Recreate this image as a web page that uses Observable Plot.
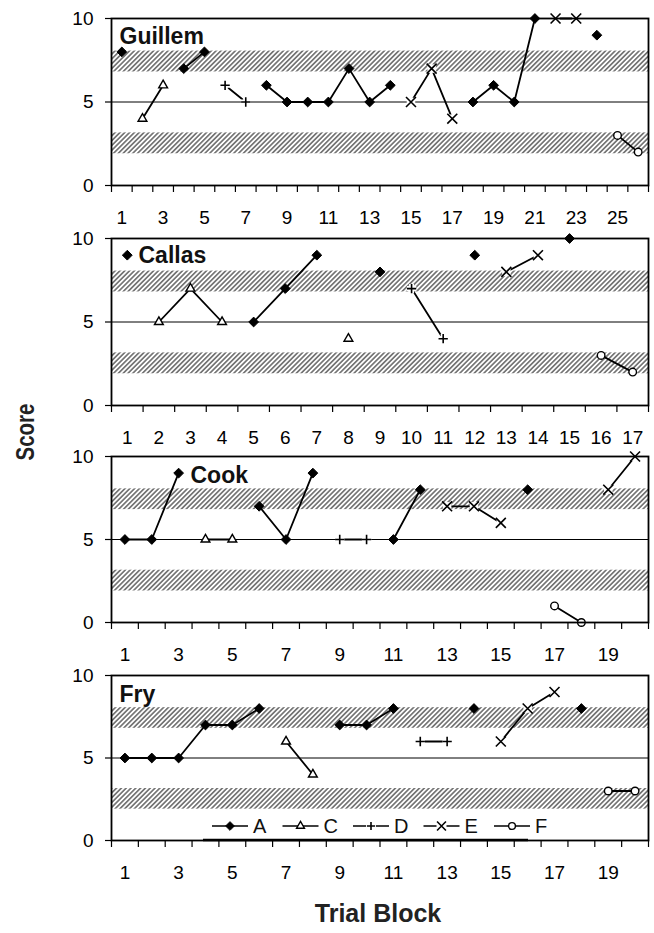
<!DOCTYPE html>
<html><head><meta charset="utf-8">
<script src="https://cdn.jsdelivr.net/npm/d3@7"></script>
<script src="https://cdn.jsdelivr.net/npm/@observablehq/plot@0.6"></script>
<style>
body{margin:0;background:#fff;}
#wrap{position:relative;width:654px;height:933px;overflow:hidden;background:#fff;font-family:"Liberation Sans",Arial,sans-serif;}
#wrap svg{position:absolute;left:0;}
</style></head><body>
<svg width="0" height="0" style="position:absolute"><defs>
<pattern id="hatch" patternUnits="userSpaceOnUse" width="3.4" height="3.4" patternTransform="rotate(45)">
<rect width="3.4" height="3.4" fill="#fff"/><line x1="1.7" y1="0" x2="1.7" y2="3.4" stroke="#444" stroke-width="1.25"/></pattern></defs></svg>
<div id="wrap"></div>
<script>
// ---- data ----
const guillemSeries = ["A","C","C","A","A","D","D","A","A","A","A","A","A","A","E","E","E","A","A","A","A","E","E","A","F","F"];
const guillemScores = [8,4,6,7,8,6,5,6,5,5,5,7,5,6,5,7,4,5,6,5,10,10,10,9,3,2];
const guillemTicks = [1,3,5,7,9,11,13,15,17,19,21,23,25];

const callasSeries = ["A","C","C","C","A","A","A","C","A","D","D","A","E","E","A","F","F"];
const callasScores = [9,5,7,5,5,7,9,4,8,7,4,9,8,9,10,3,2];
const callasTicks = [1,2,3,4,5,6,7,8,9,10,11,12,13,14,15,16,17];

const cookSeries = ["A","A","A","C","C","A","A","A","D","D","A","A","E","E","E","A","F","F","E","E"];
const cookScores = [5,5,9,5,5,7,5,9,5,5,5,8,7,7,6,8,1,0,8,10];
const cookTicks = [1,3,5,7,9,11,13,15,17,19];

const frySeries = ["A","A","A","A","A","A","C","C","A","A","A","D","D","A","E","E","E","A","F","F"];
const fryScores = [5,5,5,7,7,8,6,4,7,7,8,6,6,8,6,8,9,8,3,3];
const fryTicks = [1,3,5,7,9,11,13,15,17,19];

const legendSeries = ["A","C","D","E","F"];
const bandLow = [1.9, 3.15];
const bandHigh = [6.8, 8.05];
const yTicks = [0,5,10];

// ---- styles ----
const FONT = '"Liberation Sans", Arial, sans-serif';
const markers = {
  A: {symbol:"diamond2", r:4.4, fill:"#000", stroke:"#000", strokeWidth:1},
  C: {symbol:"triangle2", r:4.2, fill:"#fff", stroke:"#000", strokeWidth:1.4},
  D: {symbol:"plus", r:3.1, fill:"none", stroke:"#000", strokeWidth:1.6},
  E: {symbol:"times", r:4.6, fill:"none", stroke:"#000", strokeWidth:1.6},
  F: {symbol:"circle", r:3.8, fill:"#fff", stroke:"#000", strokeWidth:1.4}
};

const wrap = document.getElementById("wrap");

function panel(cfg) {
  const N = cfg.scores.length;
  let run = 0;
  const data = cfg.scores.map((v, i) => {
    if (i > 0 && cfg.series[i] !== cfg.series[i-1]) run++;
    return {block: i + 1, score: v, series: cfg.series[i], run};
  });
  const boundaries = d3.range(0, N + 1).map(k => k + 0.5);
  const bands = [{lo: bandLow[0], hi: bandLow[1]}, {lo: bandHigh[0], hi: bandHigh[1]}];
  const mt = 18, mb = 52;
  const markMarks = [];
  for (const s of Object.keys(markers)) {
    const pts = data.filter(d => d.series === s);
    if (!pts.length) continue;
    const m = markers[s];
    if (s === "E") markMarks.push(Plot.dot(pts, {x:"block", y:"score", symbol:"square", r:4.8, fill:"#fff", stroke:"none"}));
    if (s === "D") markMarks.push(Plot.dot(pts, {x:"block", y:"score", symbol:"plus", r:m.r, fill:"none", stroke:"#fff", strokeWidth:5}));
    markMarks.push(Plot.dot(pts, {x:"block", y:"score", symbol:m.symbol, r:m.r, fill:m.fill, stroke:m.stroke, strokeWidth:m.strokeWidth}));
  }
  const svg = Plot.plot({
    width: 654,
    height: (cfg.bottom - cfg.top) + mt + mb,
    marginTop: mt, marginBottom: mb, marginLeft: 111, marginRight: 6,
    x: {domain: [0.5, N + 0.5]},
    y: {domain: [0, 10]},
    style: {fontFamily: FONT, fontSize: "19px", color: "#000", background: "transparent", overflow: "visible"},
    marks: [
      Plot.rect(bands, {x1: () => 0.5, x2: () => N + 0.5, y1: "lo", y2: "hi", fill: "url(#hatch)"}),
      Plot.ruleY([5], {stroke: "#000", strokeWidth: 1}),
      Plot.axisY({ticks: yTicks, tickSize: 6, tickPadding: 12, label: null, fontSize: 19, strokeWidth: 1.2}),
      Plot.axisX({ticks: boundaries, tickSize: 7, tickFormat: () => "", label: null, strokeWidth: 1.2}),
      Plot.axisX({ticks: cfg.labels, tickSize: 0, tickPadding: 25, label: null, fontSize: 19, tickFormat: d => String(d)}),
      Plot.line(data, {x: "block", y: "score", z: "run", stroke: "#000", strokeWidth: 1.8}),
      ...markMarks,
      Plot.frame({stroke: "#000", strokeWidth: 1.8}),
      Plot.text([cfg.name], {frameAnchor: "top-left", dx: cfg.dx, dy: cfg.dy, textAnchor: "start", lineAnchor: "middle",
        fontWeight: "bold", fontSize: 23, fill: "#111"})
    ]
  });
  svg.style.top = (cfg.top - mt) + "px";
  wrap.appendChild(svg);
}

panel({name: "Guillem", series: guillemSeries, scores: guillemScores, labels: guillemTicks, top: 18, bottom: 185, dx: 8, dy: 18});
panel({name: "Callas", series: callasSeries, scores: callasScores, labels: callasTicks, top: 238, bottom: 405, dx: 27, dy: 17});
panel({name: "Cook", series: cookSeries, scores: cookScores, labels: cookTicks, top: 456, bottom: 622, dx: 79, dy: 19});
panel({name: "Fry", series: frySeries, scores: fryScores, labels: fryTicks, top: 675, bottom: 840, dx: 8, dy: 19});

// ---- overlay: axis titles + legend ----
const ov = d3.select(wrap).append("svg").attr("width", 654).attr("height", 933).style("top", "0px")
  .style("pointer-events", "none").style("font-family", FONT);
ov.append("text").attr("x", 378).attr("y", 922).attr("text-anchor", "middle")
  .attr("font-size", 25).attr("font-weight", "bold").attr("fill", "#222").text("Trial Block");
ov.append("text").attr("transform", "translate(34,432) rotate(-90) scale(1,1.25)").attr("text-anchor", "middle")
  .attr("font-size", 20.5).attr("font-weight", "bold").attr("fill", "#222").text("Score");

const symMap = {diamond2: d3.symbolDiamond2, triangle2: d3.symbolTriangle2, plus: d3.symbolPlus, times: d3.symbolTimes, circle: d3.symbolCircle, square: d3.symbolSquare};
const lg = ov.append("g");
const ly = 826, lx0 = 212, step = 70.5, ll = 36;
lg.append("line").attr("x1", 203).attr("x2", 528).attr("y1", 840).attr("y2", 840).attr("stroke", "#000").attr("stroke-width", 2.6);
legendSeries.forEach((s, i) => {
  const x = lx0 + i * step, m = markers[s];
  lg.append("line").attr("x1", x).attr("x2", x + ll).attr("y1", ly).attr("y2", ly).attr("stroke", "#000").attr("stroke-width", 1.6);
  const cx = x + ll / 2;
  if (s === "D" || s === "E") lg.append("rect").attr("x", cx - 5).attr("y", ly - 5).attr("width", 10).attr("height", 10).attr("fill", "#fff");
  lg.append("path").attr("transform", `translate(${cx},${ly})`)
    .attr("d", d3.symbol(symMap[m.symbol], Math.PI * m.r * m.r * 0.8)())
    .attr("fill", m.fill).attr("stroke", m.stroke).attr("stroke-width", m.strokeWidth);
  lg.append("text").attr("x", x + ll + 5).attr("y", ly).attr("dy", "0.36em").attr("font-size", 20).attr("fill", "#111").text(s);
});
</script>
</body></html>
